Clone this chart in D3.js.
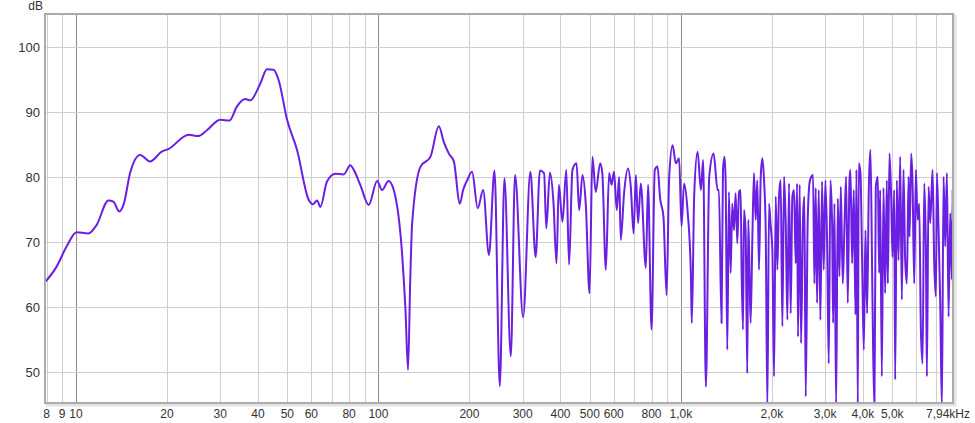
<!DOCTYPE html>
<html>
<head>
  <meta charset="utf-8">
  <title>Frequency response</title>
  <style>
    body { margin: 0; background: #fff; }
    text { font-family: "Liberation Sans", Arial, sans-serif; fill: #333; }
  </style>
  <script src="https://d3js.org/d3.v7.min.js"></script>
</head>
<body>
<svg width="975" height="423"></svg>
<script>
var lowHz = [7.9, 8.63, 9.31, 10.05, 10.98, 11.7, 12.8, 13.3, 13.9, 14.4, 15.1, 16.3, 17.6, 19.2, 20.2,
  23.6, 25.4, 27.1, 30.0, 32.2, 34.0, 36.3, 37.7, 40.7, 42.8, 45.0, 46.8, 49.9, 53.8, 58.8,
  60.7, 62.7, 64.3, 67.6, 72.1, 76.8, 80.7, 82.9, 87.1, 92.9, 99.0, 102.8, 108, 112.4, 119.7,
  122.9, 125.3, 127.4, 129.3, 137.8, 148.6, 158.4, 164.5, 171, 177.6, 185.9, 190.6, 196.6, 204,
  213, 222, 232, 242, 252, 261, 274, 283, 301, 318];
var lowDb = [63.8, 66.2, 69.3, 71.5, 71.3, 72.6, 76.4, 76.2, 74.7, 75.9, 80.6, 83.4, 82.4, 83.9, 84.3,
  86.5, 86.3, 87.2, 88.8, 88.7, 90.8, 92.0, 91.8, 94.4, 96.6, 96.5, 94.9, 88.8, 84.2, 76.5,
  75.8, 76.4, 75.4, 79.3, 80.5, 80.4, 81.8, 81.1, 78.8, 75.7, 79.4, 78.0, 79.4, 78.0, 68.3,
  59.5, 50.3, 64.0, 72.9, 81.6, 83.1, 87.8, 85.4, 83.6, 82.4, 75.9, 78.0, 79.5, 80.8,
  75.2, 78.0, 68.0, 81.0, 47.8, 79.8, 52.4, 80.3, 58.4, 80.8];

var midHz = [331, 342, 353, 359, 369, 379, 388, 395, 406, 418, 427, 438, 452, 461, 473,
  485, 499, 510, 523, 541, 550, 565, 579, 590, 601, 614, 625, 633, 649, 669,
  683, 698, 710, 722, 737, 766, 779, 800, 820, 837, 854, 876, 897, 915, 939,
  963, 987, 1005, 1025, 1052, 1079, 1087, 1107, 1136, 1165, 1185, 1210, 1241, 1283, 1323];
var midDb = [67.7, 81.0, 80.6, 72.1, 80.7, 76.2, 66.7, 78.8, 73.1, 81.1, 66.5, 81.1, 82.1, 74.9, 80.3,
  75.7, 62.1, 83.1, 77.7, 82.1, 80.6, 65.7, 80.6, 78.8, 80.8, 74.9, 80.0, 70.3, 77.5, 81.3,
  78.5, 71.3, 80.3, 72.9, 79.0, 66.0, 78.8, 56.5, 81.1, 81.6, 76.7, 73.9, 61.8, 80.0, 84.9,
  82.1, 82.9, 72.4, 79.0, 74.9, 65.2, 57.5, 77.2, 83.9, 78.0, 82.6, 47.7, 80.0, 83.6, 78.0];

// 1.3k - 2.4k
var bandAHz = [1336, 1363, 1378, 1395, 1406, 1424, 1442, 1461, 1479, 1498,
  1517, 1537, 1557, 1576, 1588, 1605, 1617, 1637, 1658, 1671,
  1688, 1701, 1723, 1745, 1768, 1790, 1813, 1837, 1860, 1884,
  1908, 1932, 1957, 1982, 2007, 2033, 2059, 2085, 2111, 2138,
  2166, 2194, 2222, 2250, 2278, 2308, 2337, 2367, 2397];
var bandADb = [78.0, 57.5, 81.1, 83.1, 79.5, 53.4, 77.7, 65.2, 75.9, 71.8,
  77.5, 69.8, 77.7, 78.0, 65.7, 56.5, 74.9, 71.8, 49.8, 73.4,
  64.2, 57.5, 70.3, 80.6, 73.4, 79.5, 65.7, 80.05, 82.9, 79.5,
  71.8, 44.5, 75.9, 72.4, 68.8, 49.3, 77.0, 65.7, 77.0, 79.5,
  57.0, 80.05, 72.9, 58.0, 79.0, 59.0, 77.0, 78.0, 66.7];

// 2.4k - 4.4k
var bandBHz = [2422, 2440, 2471, 2497, 2535, 2561, 2587, 2627, 2667, 2701,
  2736, 2764, 2792, 2821, 2857, 2893, 2930, 2967, 3005, 3044,
  3083, 3123, 3163, 3187, 3220, 3261, 3303, 3345, 3379, 3431,
  3475, 3519, 3564, 3610, 3637, 3684, 3731, 3778, 3807, 3846,
  3875, 3925, 3975, 4026, 4077, 4129, 4182, 4235, 4289, 4322,
  4366];
var bandBDb = [79.0, 55.4, 78.8, 54.4, 73.9, 77.0, 46.2, 73.4, 79.3, 80.05,
  80.3, 63.6, 78.3, 60.6, 78.0, 58.0, 79.3, 65.7, 79.5, 70.3,
  51.3, 79.5, 72.9, 57.5, 75.9, 44.5, 76.7, 64.7, 78.5, 63.6,
  72.4, 80.05, 60.6, 79.5, 81.1, 66.7, 78.0, 58.8, 81.1, 44.5,
  82.1, 80.6, 67.2, 53.4, 71.8, 59.0, 78.0, 84.2, 65.7, 53.6,
  44.5];

// 4.4k - 7.94k
var bandCHz = [4411, 4479, 4525, 4560, 4618, 4677, 4737, 4797, 4834, 4896,
  4958, 5009, 5074, 5112, 5177, 5244, 5311, 5378, 5447, 5517,
  5587, 5661, 5703, 5776, 5836, 5910, 5986, 6062, 6139, 6218,
  6298, 6378, 6460, 6509, 6592, 6677, 6795, 6883, 6971, 7024,
  7114, 7205, 7297, 7389, 7483, 7579, 7676, 7773, 7873, 7920,
  7940];
var bandCDb = [78.5, 80.05, 65.2, 78.0, 49.3, 78.3, 62.1, 79.5, 63.6, 83.6,
  77.0, 67.7, 78.0, 48.8, 79.5, 67.2, 83.1, 61.1, 81.1, 67.2,
  63.6, 80.05, 70.8, 83.6, 79.0, 63.6, 81.1, 73.4, 75.9, 56.5,
  51.3, 79.0, 68.8, 49.3, 78.5, 72.9, 81.1, 66.7, 61.6, 80.6,
  71.8, 60.6, 44.5, 80.05, 69.3, 80.6, 58.5, 74.4, 64.2, 78.0,
  66.0];

var gridHz = [8, 9, 10, 20, 30, 40, 50, 60, 70, 80, 90, 100, 200, 300, 400, 500, 600, 700, 800, 900,
  1000, 2000, 3000, 4000, 5000, 6000, 7000];
var majorHz = [10, 100, 1000];
var xTickHz = [8, 9, 10, 20, 30, 40, 50, 60, 80, 100, 200, 300, 400, 500, 600, 800,
  1000, 2000, 3000, 4000, 5000, 7940];
var xTickText = ["8", "9", "10", "20", "30", "40", "50", "60", "80", "100", "200", "300", "400", "500", "600", "800",
  "1,0k", "2,0k", "3,0k", "4,0k", "5,0k", "7,94kHz"];
var yTicks = [50, 60, 70, 80, 90, 100];

var svg = d3.select("svg"),
    pl = 45, pr = 953, pt = 14, pb = 403;

var x = d3.scaleLog().domain([7.9, 7940]).range([pl, pr]);
var y = d3.scaleLinear().domain([45.2, 105.1]).range([pb, pt]);

var data = d3.zip(lowHz, lowDb).concat(
  d3.zip(midHz, midDb),
  d3.zip(bandAHz, bandADb),
  d3.zip(bandBHz, bandBDb),
  d3.zip(bandCHz, bandCDb));

// frame + soft shadow
svg.append("rect")
   .attr("x", pl + 2).attr("y", pt + 2)
   .attr("width", pr - pl).attr("height", pb - pt)
   .attr("fill", "none").attr("stroke", "#e2e2e2").attr("stroke-width", 3);
svg.append("rect")
   .attr("x", pl).attr("y", pt)
   .attr("width", pr - pl).attr("height", pb - pt)
   .attr("fill", "#fff");

// grid
svg.append("g").selectAll("line")
   .data(gridHz)
   .enter().append("line")
   .attr("x1", function(d) { return Math.round(x(d)) + 0.5; })
   .attr("x2", function(d) { return Math.round(x(d)) + 0.5; })
   .attr("y1", pt).attr("y2", pb)
   .attr("stroke", function(d) { return majorHz.indexOf(d) >= 0 ? "#8c8c8c" : "#cfcfcf"; });

svg.append("g").selectAll("line")
   .data(yTicks)
   .enter().append("line")
   .attr("x1", pl).attr("x2", pr)
   .attr("y1", function(d) { return Math.round(y(d)) + 0.5; })
   .attr("y2", function(d) { return Math.round(y(d)) + 0.5; })
   .attr("stroke", "#cfcfcf");

svg.append("clipPath").attr("id", "plot")
   .append("rect")
   .attr("x", pl).attr("y", pt)
   .attr("width", pr - pl).attr("height", pb - pt);

var line = d3.line()
   .x(function(d) { return x(d[0]); })
   .y(function(d) { return y(d[1]); })
   .curve(d3.curveMonotoneX);

svg.append("path")
   .datum(data)
   .attr("clip-path", "url(#plot)")
   .attr("fill", "none")
   .attr("stroke", "#6a1fe2")
   .attr("stroke-width", 2)
   .attr("stroke-linejoin", "round")
   .attr("d", line);

svg.append("rect")
   .attr("x", pl).attr("y", pt)
   .attr("width", pr - pl).attr("height", pb - pt)
   .attr("fill", "none").attr("stroke", "#ababab").attr("stroke-width", 2);

// labels
svg.append("g").selectAll("text")
   .data(yTicks)
   .enter().append("text")
   .attr("x", 40)
   .attr("y", function(d) { return y(d) + 5; })
   .attr("text-anchor", "end")
   .attr("font-size", "13px")
   .text(function(d) { return d; });

svg.append("text")
   .attr("x", 43).attr("y", 10)
   .attr("text-anchor", "end")
   .attr("font-size", "12px")
   .text("dB");

svg.append("g").selectAll("text")
   .data(xTickHz)
   .enter().append("text")
   .attr("x", function(d, i) { return i == xTickHz.length - 1 ? x(d) - 5 : x(d); })
   .attr("y", 418)
   .attr("text-anchor", "middle")
   .attr("font-size", "12px")
   .text(function(d, i) { return xTickText[i]; });
</script>
</body>
</html>
